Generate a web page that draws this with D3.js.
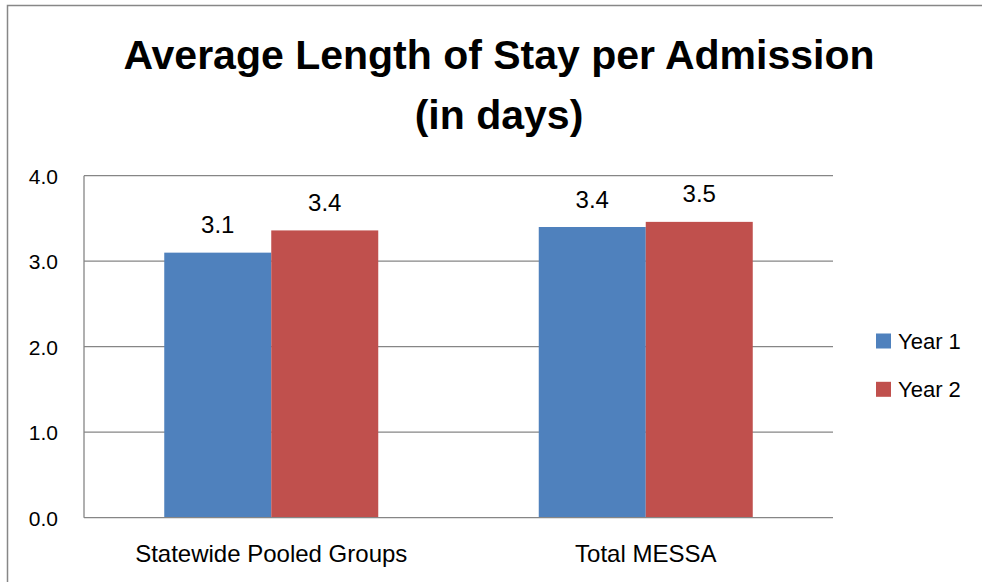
<!DOCTYPE html>
<html>
<head>
<meta charset="utf-8">
<script src="https://cdn.jsdelivr.net/npm/d3@7"></script>
<style>
  html, body { margin: 0; padding: 0; background: #fff; }
  svg { display: block; }
  text { font-family: "Liberation Sans", Arial, sans-serif; fill: #000; }
</style>
</head>
<body>
<svg id="chart" width="982" height="582"></svg>
<script>
const titleLines = ["Average Length of Stay per Admission", "(in days)"];
const categories = ["Statewide Pooled Groups", "Total MESSA"];
const seriesNames = ["Year 1", "Year 2"];
const year1 = [3.10, 3.40];
const year2 = [3.36, 3.46];
const yTicks = [0, 1, 2, 3, 4];
const colors = ["#4F81BD", "#C0504D"];

const svg = d3.select("#chart");
const plot = { left: 84, right: 833, top: 175.7, bottom: 517.7 };

// outer frame
svg.append("path")
  .attr("d", "M7.5,582 L7.5,5.5 L982,5.5")
  .attr("fill", "none").attr("stroke", "#878787").attr("stroke-width", 1.5);

// title
svg.append("text").attr("x", 499).attr("y", 69).attr("text-anchor", "middle")
  .attr("font-size", 41).attr("font-weight", "bold").text(titleLines[0]);
svg.append("text").attr("x", 499).attr("y", 129).attr("text-anchor", "middle")
  .attr("font-size", 41).attr("font-weight", "bold").text(titleLines[1]);

const x0 = d3.scaleBand().domain(categories).range([plot.left, plot.right]).paddingInner(0).paddingOuter(0);
const x1 = d3.scaleBand().domain(seriesNames).range([0, 214]).padding(0);
const y = d3.scaleLinear().domain([0, 4]).range([plot.bottom, plot.top]);

// gridlines
svg.append("g").selectAll("line").data(yTicks.filter(d => d > 0)).join("line")
  .attr("x1", plot.left).attr("x2", plot.right)
  .attr("y1", d => y(d)).attr("y2", d => y(d))
  .attr("stroke", "#868686").attr("stroke-width", 1.3);

// y axis labels
const yAxis = d3.axisLeft(y).tickValues(yTicks).tickFormat(d3.format(".1f")).tickSize(0).tickPadding(26);
const ga = svg.append("g").attr("transform", `translate(${plot.left},0)`).call(yAxis);
ga.select(".domain").remove();
ga.attr("font-size", 21).attr("font-family", "Liberation Sans, Arial, sans-serif");
ga.selectAll("text").attr("font-size", 21).attr("fill", "#000").attr("dy", "0.36em");

// bars
const data = categories.map((c, i) => ({ cat: c, vals: [year1[i], year2[i]] }));
const groups = svg.append("g").selectAll("g").data(data).join("g")
  .attr("transform", d => `translate(${x0(d.cat) + x0.bandwidth() / 2 - 107},0)`);
groups.selectAll("rect").data(d => d.vals.map((v, j) => ({ v, s: seriesNames[j], j }))).join("rect")
  .attr("x", d => x1(d.s)).attr("width", x1.bandwidth())
  .attr("y", d => y(d.v)).attr("height", d => y(0) - y(d.v))
  .attr("fill", d => colors[d.j]);
groups.selectAll("text").data(d => d.vals.map((v, j) => ({ v, s: seriesNames[j], j }))).join("text")
  .attr("x", d => x1(d.s) + x1.bandwidth() / 2).attr("y", d => y(d.v) - 19.5)
  .attr("text-anchor", "middle").attr("font-size", 24)
  .text(d => d3.format(".1f")(d.v));

// axes lines
svg.append("line").attr("x1", plot.left).attr("x2", plot.left).attr("y1", plot.top).attr("y2", plot.bottom)
  .attr("stroke", "#868686").attr("stroke-width", 1.3);
svg.append("line").attr("x1", plot.left).attr("x2", plot.right).attr("y1", plot.bottom).attr("y2", plot.bottom)
  .attr("stroke", "#868686").attr("stroke-width", 1.3);

// category labels
svg.append("g").selectAll("text").data(categories).join("text")
  .attr("x", d => x0(d) + x0.bandwidth() / 2).attr("y", 562)
  .attr("text-anchor", "middle").attr("font-size", 24).text(d => d);

// legend
const lg = svg.append("g").selectAll("g").data(seriesNames).join("g")
  .attr("transform", (d, i) => `translate(876,${333.5 + i * 48.3})`);
lg.append("rect").attr("width", 15).attr("height", 15).attr("fill", (d, i) => colors[i]);
lg.append("text").attr("x", 22).attr("y", 15.5).attr("font-size", 22).text(d => d);
</script>
</body>
</html>
